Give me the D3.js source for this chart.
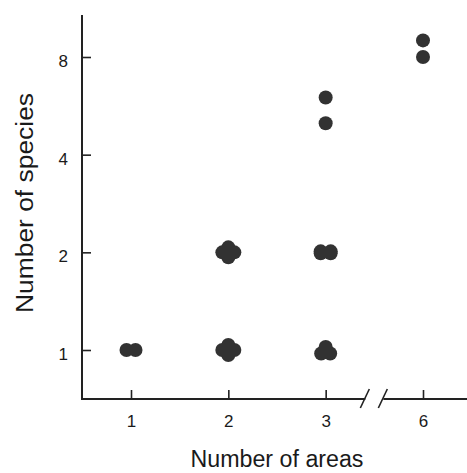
<!DOCTYPE html>
<html lang="en">
<head>
<meta charset="utf-8">
<title>Species vs areas</title>
<script src="https://d3js.org/d3.v7.min.js"></script>
<style>
  html, body { margin: 0; padding: 0; background: #fff; }
  svg { display: block; }
  .tick text { font-family: "Liberation Sans", Arial, sans-serif; fill: #1a1a1a; }
  .title { font-family: "Liberation Sans", Arial, sans-serif; fill: #1a1a1a; }
</style>
</head>
<body>
<div id="chart"></div>
<script>
// data: number of areas, number of species, how many taxa fall on that cell
var areas   = [1, 2, 2, 3, 3, 3, 3, 6, 6];
var species = [1, 1, 2, 1, 2, 5, 6, 8, 9];
var counts  = [2, 5, 5, 3, 4, 1, 1, 1, 1];

var areaTicks    = [1, 2, 3, 6];
var speciesTicks = [1, 2, 4, 8];

var width = 467, height = 473;
var left = 82, bottom = 399, axisTop = 15;
var r = 7;

var svg = d3.select("#chart").append("svg")
    .attr("width", width)
    .attr("height", height);

var defs = svg.append("defs");
defs.append("filter").attr("id", "soft")
  .append("feGaussianBlur").attr("stdDeviation", 0.7);

var x = d3.scalePoint()
    .domain(areaTicks)
    .range([131, 423]);

var y = d3.scaleLog()
    .base(2)
    .domain([1, 8])
    .range([350, 57]);

// overlapping points are nudged apart, pattern picked by how many there are
var patterns = {
  1: [[0, 0]],
  2: [[-4.5, 0], [4.5, 0]],
  3: [[0, -3], [-4.5, 3.5], [4.5, 3.5]],
  4: [[-5, -1], [5, -1], [-5, 1], [5, 1]],
  5: [[0, 0], [-6, 0], [6, 0], [0, -5], [0, 5]]
};

var points = [];
areas.forEach(function(a, i) {
  patterns[counts[i]].forEach(function(p) {
    points.push({ a: a, s: species[i], dx: p[0], dy: p[1] });
  });
});

// y axis
var yAxis = svg.append("g")
    .attr("transform", "translate(" + left + ",0)")
    .call(d3.axisLeft(y).tickValues(speciesTicks).tickFormat(d3.format("d"))
      .tickSize(-9).tickPadding(14));
yAxis.select(".domain").remove();
yAxis.selectAll(".tick line").attr("stroke", "#222").attr("stroke-width", 1.6);
yAxis.selectAll(".tick text").attr("font-size", 17).attr("dy", "0.55em");

// x axis
var xAxis = svg.append("g")
    .attr("transform", "translate(0," + bottom + ")")
    .call(d3.axisBottom(x).tickSize(-9).tickPadding(16));
xAxis.select(".domain").remove();
xAxis.selectAll(".tick line").attr("stroke", "#222").attr("stroke-width", 1.6);
xAxis.selectAll(".tick text").attr("font-size", 17);

// frame lines with the break between 3 and 6
var brk = (x(3) + x(6)) / 2;
var frame = svg.append("g")
    .attr("stroke", "#222")
    .attr("stroke-width", 2)
    .attr("fill", "none");
frame.append("line").attr("x1", left).attr("y1", axisTop).attr("x2", left).attr("y2", bottom);
frame.append("line").attr("x1", left - 1).attr("y1", bottom).attr("x2", brk - 9).attr("y2", bottom);
frame.append("line").attr("x1", brk + 9).attr("y1", bottom).attr("x2", width).attr("y2", bottom);
[-9, 9].forEach(function(o) {
  frame.append("line")
      .attr("stroke-width", 1.6)
      .attr("x1", brk + o - 5).attr("y1", bottom + 9)
      .attr("x2", brk + o + 4).attr("y2", bottom - 10);
});

// points
svg.append("g")
    .attr("filter", "url(#soft)")
  .selectAll("circle")
    .data(points)
  .enter().append("circle")
    .attr("cx", function(d) { return x(d.a) + d.dx; })
    .attr("cy", function(d) { return y(d.s) + d.dy; })
    .attr("r", r)
    .attr("fill", "#333");

// axis titles
svg.append("text")
    .attr("class", "title")
    .attr("x", 277)
    .attr("y", 467)
    .attr("text-anchor", "middle")
    .attr("font-size", 23)
    .attr("textLength", 173)
    .attr("lengthAdjust", "spacingAndGlyphs")
    .text("Number of areas");

svg.append("text")
    .attr("class", "title")
    .attr("transform", "translate(33,203) rotate(-90)")
    .attr("text-anchor", "middle")
    .attr("font-size", 23)
    .attr("textLength", 220)
    .attr("lengthAdjust", "spacingAndGlyphs")
    .text("Number of species");
</script>
</body>
</html>
